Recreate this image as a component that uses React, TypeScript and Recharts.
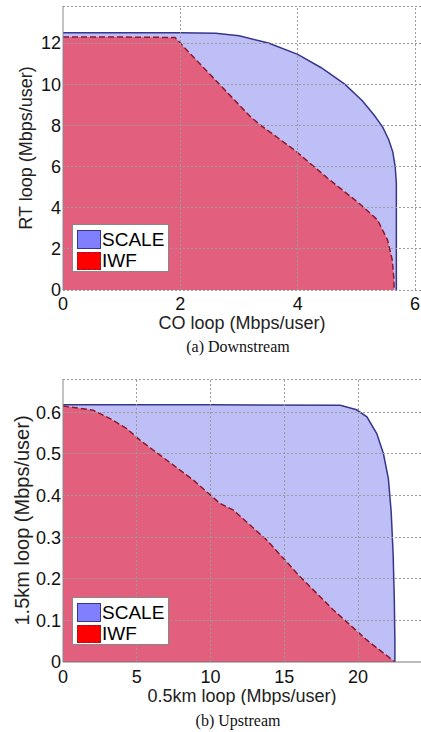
import React from 'react';
import {
  ComposedChart, Area, XAxis, YAxis, Label, ReferenceLine,
} from 'recharts';

// (a) Downstream: CO loop vs RT loop (Mbps/user)
const scaleDownX = [0, 1, 2, 2.6, 3, 3.5, 4, 4.4, 4.8, 5.1, 5.3, 5.45, 5.55, 5.62, 5.66, 5.68, 5.68];
const scaleDownY = [12.5, 12.5, 12.5, 12.47, 12.35, 12.0, 11.45, 10.8, 10.0, 9.2, 8.5, 7.9, 7.3, 6.7, 6.0, 5.2, 0];
const iwfDownX = [0, 1, 1.91, 2.05, 2.62, 3.19, 3.37, 3.94, 4.51, 5.08, 5.36, 5.53, 5.61, 5.64, 5.64];
const iwfDownY = [12.29, 12.29, 12.27, 11.83, 10.13, 8.43, 8.0, 6.81, 5.43, 4.13, 3.4, 2.43, 1.46, 0.5, 0];

// (b) Upstream: 0.5km loop vs 1.5km loop (Mbps/user)
const scaleUpX = [0, 10, 18.8, 19.9, 20.6, 21.27, 21.72, 22.06, 22.25, 22.38, 22.46, 22.5, 22.5];
const scaleUpY = [0.618, 0.618, 0.617, 0.606, 0.589, 0.549, 0.501, 0.44, 0.36, 0.26, 0.15, 0.05, 0];
const iwfUpX = [0, 2.05, 3.19, 4.32, 5.22, 6.58, 8.84, 10.64, 11.55, 13.81, 16.07, 18.33, 20.59, 22.5];
const iwfUpY = [0.615, 0.605, 0.585, 0.561, 0.533, 0.497, 0.437, 0.381, 0.365, 0.293, 0.205, 0.125, 0.053, 0];

const downXTicks = [0, 2, 4, 6];
const downYTicks = [0, 2, 4, 6, 8, 10, 12];
const upXTicks = [0, 5, 10, 15, 20];
const upYTicks = [0, 0.1, 0.2, 0.3, 0.4, 0.5, 0.6];

const seriesNames = ['SCALE', 'IWF'];

const toRows = (xs: number[], ys: number[]) => xs.map((x, i) => ({ x, y: ys[i] }));

const SCALE_FILL = '#bfbff8';
const SCALE_STROKE = '#36368c';
const IWF_FILL = '#e2607e';
const IWF_STROKE = '#8b1a2a';
const GRID = '#9a9a9a';

const LegendBox = () => (
  <div
    style={{
      width: 97,
      height: 48,
      boxSizing: 'border-box',
      border: '1px solid #888',
      background: '#fff',
      padding: '3px 0 0 4px',
    }}
  >
    {seriesNames.map((name, i) => (
      <div key={name} style={{ display: 'flex', alignItems: 'center', height: i === 0 ? 22 : 21 }}>
        <div
          style={{
            width: 24,
            height: i === 0 ? 19 : 18,
            boxSizing: 'border-box',
            background: i === 0 ? '#8080ff' : '#ff0000',
            border: i === 0 ? `1px solid ${SCALE_STROKE}` : `1.5px dashed ${IWF_STROKE}`,
          }}
        />
        <span style={{ fontSize: 19, lineHeight: '19px', color: '#000', marginLeft: 1 }}>{name}</span>
      </div>
    ))}
  </div>
);

interface PanelProps {
  scale: { x: number; y: number }[];
  iwf: { x: number; y: number }[];
  xDomain: [number, number];
  yDomain: [number, number];
  xTicks: number[];
  yTicks: number[];
  xLabel: string;
  yLabel: string;
  yLabelSize: number;
  yLabelOffset: number;
  top: number;
  plotHeight: number;
  xTickMargin: number;
  xLabelOffset: number;
  solidXAxis: boolean;
  legendTop: number;
}

const gridLine = {
  stroke: GRID,
  strokeWidth: 1,
  strokeDasharray: '2 2',
  shapeRendering: 'crispEdges',
  ifOverflow: 'extendDomain' as const,
};

const Panel: React.FC<PanelProps> = (p) => (
  <div style={{ position: 'relative', width: 421, height: 335 }}>
    <ComposedChart
      width={421}
      height={335}
      margin={{ top: p.top, right: 0, left: 0, bottom: 0 }}
    >
      <XAxis
        dataKey="x"
        type="number"
        domain={p.xDomain}
        ticks={p.xTicks}
        allowDataOverflow
        height={335 - p.top - p.plotHeight}
        tickLine={false}
        tickSize={0}
        tickMargin={p.xTickMargin}
        axisLine={p.solidXAxis ? { stroke: '#777' } : false}
        tick={{ fill: '#111', fontSize: 18 }}
      >
        <Label value={p.xLabel} position="insideTop" offset={p.xLabelOffset} fill="#222" fontSize={18} />
      </XAxis>
      <YAxis
        type="number"
        domain={p.yDomain}
        ticks={p.yTicks}
        allowDataOverflow
        width={63}
        tickLine={false}
        tickSize={0}
        tickMargin={2}
        axisLine={{ stroke: '#888' }}
        tick={{ fill: '#111', fontSize: 18 }}
      >
        <Label
          value={p.yLabel}
          position="insideLeft"
          angle={-90}
          offset={p.yLabelOffset}
          fill="#222"
          fontSize={p.yLabelSize}
          style={{ textAnchor: 'middle' }}
        />
      </YAxis>
      <Area
        data={p.scale}
        dataKey="y"
        name="SCALE"
        type="linear"
        fill={SCALE_FILL}
        fillOpacity={1}
        stroke={SCALE_STROKE}
        strokeWidth={1.5}
        dot={false}
        activeDot={false}
        isAnimationActive={false}
      />
      <Area
        data={p.iwf}
        dataKey="y"
        name="IWF"
        type="linear"
        fill={IWF_FILL}
        fillOpacity={1}
        stroke={IWF_STROKE}
        strokeWidth={1.5}
        strokeDasharray="6 3"
        dot={false}
        activeDot={false}
        isAnimationActive={false}
      />
      {p.yTicks.slice(1).map((t) => (
        <ReferenceLine key={`h${t}`} y={t} {...gridLine} />
      ))}
      {p.xTicks.slice(1).map((t) => (
        <ReferenceLine key={`v${t}`} x={t} {...gridLine} />
      ))}
      <ReferenceLine y={p.yDomain[1]} {...gridLine} />
      {!p.solidXAxis && <ReferenceLine y={0} {...gridLine} />}
    </ComposedChart>
    <div style={{ position: 'absolute', left: 72, top: p.legendTop }}>
      <LegendBox />
    </div>
  </div>
);

const captionStyle: React.CSSProperties = {
  position: 'absolute',
  left: 138,
  width: 200,
  textAlign: 'center',
  fontFamily: "'Liberation Serif', 'Times New Roman', serif",
  fontSize: 16,
  lineHeight: '16px',
  color: '#111',
};

export default function App() {
  return (
    <div
      style={{
        position: 'absolute',
        left: 0,
        top: 0,
        width: 421,
        height: 732,
        overflow: 'hidden',
        background: '#fff',
        fontFamily: "'Liberation Sans', Arial, sans-serif",
      }}
    >
      <div style={{ position: 'absolute', left: 0, top: 0 }}>
        <Panel
          scale={toRows(scaleDownX, scaleDownY)}
          iwf={toRows(iwfDownX, iwfDownY)}
          xDomain={[0, 6.1]}
          yDomain={[0, 13.8]}
          xTicks={downXTicks}
          yTicks={downYTicks}
          xLabel="CO loop (Mbps/user)"
          yLabel="RT loop (Mbps/user)"
          yLabelSize={18}
          yLabelOffset={26}
          top={6}
          plotHeight={284}
          xTickMargin={7}
          xLabelOffset={26}
          solidXAxis={false}
          legendTop={224}
        />
      </div>
      <div style={{ ...captionStyle, top: 339 }}>(a) Downstream</div>
      <div style={{ position: 'absolute', left: 0, top: 370 }}>
        <Panel
          scale={toRows(scaleUpX, scaleUpY)}
          iwf={toRows(iwfUpX, iwfUpY)}
          xDomain={[0, 24.27]}
          yDomain={[0, 0.68]}
          xTicks={upXTicks}
          yTicks={upYTicks}
          xLabel="0.5km loop (Mbps/user)"
          yLabel="1.5km loop (Mbps/user)"
          yLabelSize={20}
          yLabelOffset={22}
          top={9}
          plotHeight={283}
          xTickMargin={8}
          xLabelOffset={27}
          solidXAxis
          legendTop={227}
        />
      </div>
      <div style={{ ...captionStyle, top: 713 }}>(b) Upstream</div>
    </div>
  );
}
